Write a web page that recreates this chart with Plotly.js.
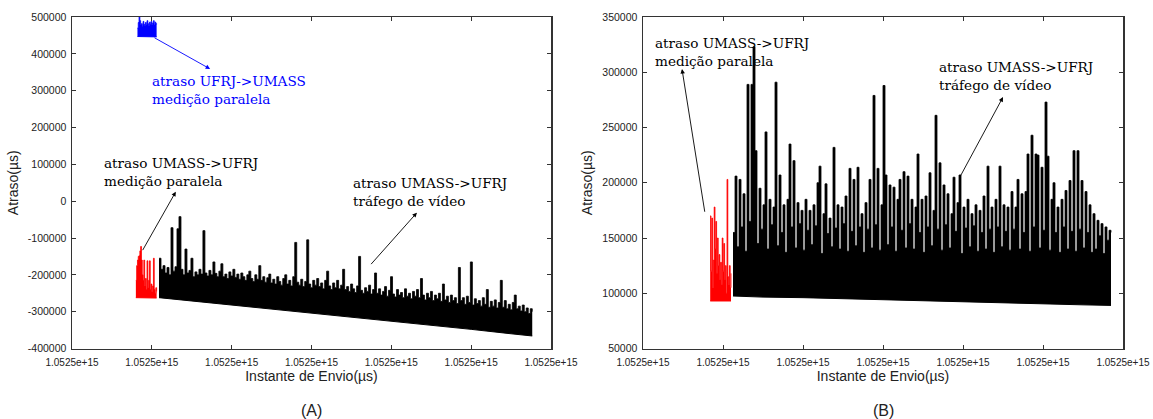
<!DOCTYPE html>
<html>
<head>
<meta charset="utf-8">
<script src="https://cdn.plot.ly/plotly-3.0.1.min.js"></script>
<style>html,body{margin:0;padding:0;background:#fff}#chart{width:1153px;height:419px}</style>
</head>
<body>
<div id="chart"></div>
<script>
// ---------- common ----------
const T0 = 1.0525e15;                       // send instant origin (µs)
const xTickSeconds = [0, 200, 400, 600, 800, 1000, 1200];
const yTicksA = [-400000, -300000, -200000, -100000, 0, 100000, 200000, 300000, 400000, 500000];
const yTicksB = [50000, 100000, 150000, 200000, 250000, 300000, 350000];

// ---------- panel (A) ----------
// UFRJ->UMASS, parallel measurement (blue)
const aBlueStart = 164, aBlueStep = 2;
const aBlueTop = [470000, 485000, 510000, 490000, 478000, 482000, 475000, 488000, 480000, 476000,
  485000, 478000, 490000, 482000, 476000, 486000, 480000, 488000, 478000, 484000,
  490000, 478000, 486000, 482000, 480000];
const aBlueBaseT = [164, 212];
const aBlueBase = [447000, 446000];

// UMASS->UFRJ, parallel measurement (red)
const aRedStart = 160, aRedStep = 2;
const aRedTop = [-215000, -175000, -160000, -150000, -148000, -135000, -123000, -160000, -200000, -215000,
  -160000, -230000, -210000, -240000, -162000, -235000, -215000, -162000, -240000, -225000,
  -245000, -230000, -155000, -240000, -250000, -235000, -245000];
const aRedBaseT = [160, 212];
const aRedBase = [-262000, -263000];

// UMASS->UFRJ, video traffic (black)
const aBlackStart = 218, aBlackStep = 5;
const aBlackTop = [
  -155000, -185000, -175000, -195000, -180000, -200000, -72000, -190000, -178000, -75000,
  -42000, -185000, -200000, -130000, -195000, -188000, -155000, -205000, -192000, -200000,
  -185000, -198000, -80000, -195000, -203000, -188000, -200000, -165000, -196000, -205000,
  -190000, -170000, -205000, -198000, -210000, -192000, -203000, -185000, -207000, -198000,
  -212000, -195000, -205000, -215000, -200000, -190000, -210000, -218000, -200000, -212000,
  -175000, -215000, -205000, -220000, -208000, -198000, -222000, -212000, -225000, -205000,
  -218000, -228000, -210000, -200000, -225000, -215000, -230000, -205000, -112000, -220000,
  -228000, -212000, -232000, -218000, -105000, -225000, -235000, -215000, -228000, -210000,
  -232000, -222000, -238000, -215000, -190000, -230000, -240000, -222000, -235000, -215000,
  -238000, -228000, -185000, -240000, -232000, -245000, -225000, -238000, -248000, -230000,
  -150000, -242000, -250000, -235000, -245000, -228000, -252000, -240000, -195000, -250000,
  -238000, -255000, -245000, -232000, -258000, -242000, -205000, -252000, -260000, -240000,
  -255000, -248000, -262000, -238000, -258000, -250000, -265000, -245000, -258000, -240000,
  -262000, -210000, -255000, -268000, -250000, -262000, -245000, -270000, -255000, -265000,
  -250000, -272000, -225000, -268000, -258000, -275000, -255000, -270000, -262000, -278000,
  -180000, -270000, -262000, -280000, -258000, -275000, -165000, -282000, -265000, -278000,
  -270000, -285000, -262000, -280000, -240000, -288000, -272000, -285000, -268000, -290000,
  -275000, -215000, -288000, -270000, -292000, -280000, -295000, -275000, -255000, -292000,
  -285000, -298000, -282000, -300000, -290000, -305000, -292000, -300000];
const aBlackBaseT = [218, 300, 400, 500, 600, 700, 800, 900, 1000, 1100, 1153];
const aBlackBase = [-262000, -271000, -281000, -292000, -302000, -314000, -325000, -337000, -348000, -360000, -366000];

// ---------- panel (B) ----------
// UMASS->UFRJ, parallel measurement (red)
const bRedStart = 168, bRedStep = 2;
const bRedTop = [170000, 120000, 168000, 105000, 130000, 178000, 140000, 165000, 118000, 150000,
  125000, 135000, 112000, 128000, 108000, 150000, 120000, 145000, 112000, 125000,
  100000, 203000, 115000, 108000, 125000, 105000, 118000];
const bRedBaseT = [168, 220];
const bRedBase = [93000, 93000];

// UMASS->UFRJ, video traffic (black)
const bBlackStart = 225, bBlackStep = 5;
const bBlackTop = [
  155000, 206000, 142000, 203000, 160000, 190000, 138000, 289000, 165000, 289000,
  323000, 229000, 145000, 195000, 158000, 180000, 246000, 140000, 185000, 162000,
  178000, 291000, 143000, 207000, 155000, 180000, 137000, 185000, 235000, 160000,
  220000, 141000, 182000, 163000, 175000, 139000, 185000, 157000, 175000, 144000,
  180000, 161000, 200000, 215000, 136000, 172000, 199000, 154000, 168000, 142000,
  232000, 159000, 180000, 140000, 178000, 163000, 188000, 138000, 213000, 156000,
  203000, 143000, 214000, 160000, 172000, 137000, 182000, 158000, 203000, 141000,
  279000, 162000, 213000, 139000, 180000, 288000, 207000, 144000, 198000, 160000,
  196000, 138000, 185000, 203000, 157000, 210000, 141000, 206000, 163000, 185000,
  140000, 178000, 226000, 155000, 185000, 137000, 188000, 160000, 209000, 143000,
  175000, 261000, 158000, 218000, 139000, 198000, 162000, 190000, 141000, 172000,
  205000, 156000, 182000, 207000, 136000, 178000, 159000, 185000, 142000, 172000,
  161000, 180000, 138000, 175000, 155000, 188000, 140000, 215000, 158000, 178000,
  137000, 185000, 160000, 215000, 142000, 180000, 156000, 178000, 139000, 192000,
  158000, 178000, 203000, 140000, 190000, 155000, 192000, 226000, 138000, 243000,
  160000, 226000, 225000, 141000, 214000, 157000, 273000, 224000, 139000, 185000,
  200000, 155000, 178000, 137000, 185000, 160000, 193000, 140000, 202000, 156000,
  229000, 138000, 229000, 158000, 202000, 141000, 192000, 155000, 180000, 137000,
  172000, 140000, 166000, 152000, 163000, 136000, 160000, 148000, 157000, 155000];
const bBlackBaseT = [225, 300, 400, 500, 600, 700, 800, 900, 1000, 1100, 1170];
const bBlackBase = [97500, 96500, 96000, 95000, 94000, 93000, 92000, 91000, 90500, 89500, 89000];

// ---------- helpers ----------
const toX = s => T0 + s * 1e6;
const seq = (start, step, n) => Array.from({length: n}, (_, i) => toX(start + i * step));

function band(xa, ya, baseT, base, start, step, top, color) {
  return [
    {x: baseT.map(toX), y: base, xaxis: xa, yaxis: ya, mode: 'lines',
     line: {color: color, width: 1}, hoverinfo: 'skip', showlegend: false},
    {x: seq(start, step, top.length), y: top, xaxis: xa, yaxis: ya, mode: 'lines',
     fill: 'tonexty', fillcolor: color, line: {color: color, width: 0.8, shape: 'hv'},
     hoverinfo: 'skip', showlegend: false}
  ];
}

const traces = [].concat(
  band('x', 'y', aBlueBaseT, aBlueBase, aBlueStart, aBlueStep, aBlueTop, '#0000ff'),
  band('x', 'y', aRedBaseT, aRedBase, aRedStart, aRedStep, aRedTop, '#ff0000'),
  band('x', 'y', aBlackBaseT, aBlackBase, aBlackStart, aBlackStep, aBlackTop, '#000000'),
  band('x2', 'y2', bRedBaseT, bRedBase, bRedStart, bRedStep, bRedTop, '#ff0000'),
  band('x2', 'y2', bBlackBaseT, bBlackBase, bBlackStart, bBlackStep, bBlackTop, '#000000')
);

const sans = 'Liberation Sans, Arial, Helvetica, sans-serif';
const serif = 'DejaVu Serif, serif';

function xAxis(domain, anchor) {
  return {
    domain: domain, anchor: anchor,
    range: [toX(0), toX(1200)],
    tickvals: xTickSeconds.map(toX),
    ticktext: xTickSeconds.map(s => toX(s).toExponential(4)),
    ticks: 'inside', ticklen: 4, tickwidth: 1, tickcolor: '#333',
    showline: true, linecolor: '#333', linewidth: 1.5, mirror: 'ticks',
    showgrid: false, zeroline: false, ticklabelstandoff: 4,
    tickfont: {family: sans, size: 10, color: '#222'},
    title: {text: 'Instante de Envio(µs)', font: {family: sans, size: 14, color: '#222'}, standoff: 3}
  };
}
function yAxis(domain, anchor, ticks) {
  return {
    domain: domain, anchor: anchor,
    range: [ticks[0], ticks[ticks.length - 1]],
    tickvals: ticks, ticktext: ticks.map(v => String(v)),
    ticks: 'inside', ticklen: 4, tickwidth: 1, tickcolor: '#333',
    showline: true, linecolor: '#333', linewidth: 1.5, mirror: 'ticks',
    showgrid: false, zeroline: false, ticklabelstandoff: 2,
    tickfont: {family: sans, size: 10.5, color: '#222'},
    title: {text: 'Atraso(µs)', font: {family: sans, size: 14, color: '#222'}, standoff: 6}
  };
}

const yDom = [1 - 348.5 / 419, 1 - 17 / 419];

function label(xa, ya, t, v, text, color) {
  return {xref: xa, yref: ya, x: toX(t), y: v, text: text, showarrow: false,
          xanchor: 'left', yanchor: 'middle', align: 'left',
          font: {family: serif, size: 13.6, color: color}};
}
function arrow(xa, ya, t1, v1, t2, v2, color) {
  return {xref: xa, yref: ya, axref: xa, ayref: ya, x: toX(t2), y: v2, ax: toX(t1), ay: v1,
          text: '', showarrow: true, arrowhead: 2, arrowsize: 1, arrowwidth: 0.9, arrowcolor: color};
}

const annotations = [
  label('x', 'y', 195, 301000, 'atraso UFRJ-&gt;UMASS<br>medição paralela', '#0000ff'),
  arrow('x', 'y', 203, 445800, 346, 359000, '#0000ff'),
  label('x', 'y', 75, 80000, 'atraso UMASS-&gt;UFRJ<br>medição paralela', '#000'),
  arrow('x', 'y', 175, -137000, 260, 25600, '#000'),
  label('x', 'y', 699, 24200, 'atraso UMASS-&gt;UFRJ<br>tráfego de vídeo', '#000'),
  arrow('x', 'y', 746, -175000, 864, -31400, '#000'),
  label('x2', 'y2', 25, 318700, 'atraso UMASS-&gt;UFRJ<br>medição paralela', '#000'),
  arrow('x2', 'y2', 155, 172400, 97.5, 302900, '#000'),
  label('x2', 'y2', 735, 297000, 'atraso UMASS-&gt;UFRJ<br>tráfego de vídeo', '#000'),
  arrow('x2', 'y2', 792, 205000, 900, 277500, '#000'),
  {xref: 'paper', yref: 'paper', x: 311 / 1153, y: 1 - 410 / 419, text: '(A)', showarrow: false,
   xanchor: 'center', yanchor: 'middle', font: {family: sans, size: 16, color: '#222'}},
  {xref: 'paper', yref: 'paper', x: 883 / 1153, y: 1 - 410 / 419, text: '(B)', showarrow: false,
   xanchor: 'center', yanchor: 'middle', font: {family: sans, size: 16, color: '#222'}}
];

const layout = {
  width: 1153, height: 419,
  margin: {l: 0, r: 0, t: 0, b: 0},
  paper_bgcolor: '#fff', plot_bgcolor: '#fff',
  showlegend: false,
  xaxis: xAxis([72 / 1153, 551 / 1153], 'y'),
  yaxis: yAxis(yDom, 'x', yTicksA),
  xaxis2: xAxis([643 / 1153, 1123 / 1153], 'y2'),
  yaxis2: yAxis(yDom, 'x2', yTicksB),
  annotations: annotations
};

Plotly.newPlot('chart', traces, layout, {displayModeBar: false, staticPlot: true});
</script>
</body>
</html>
